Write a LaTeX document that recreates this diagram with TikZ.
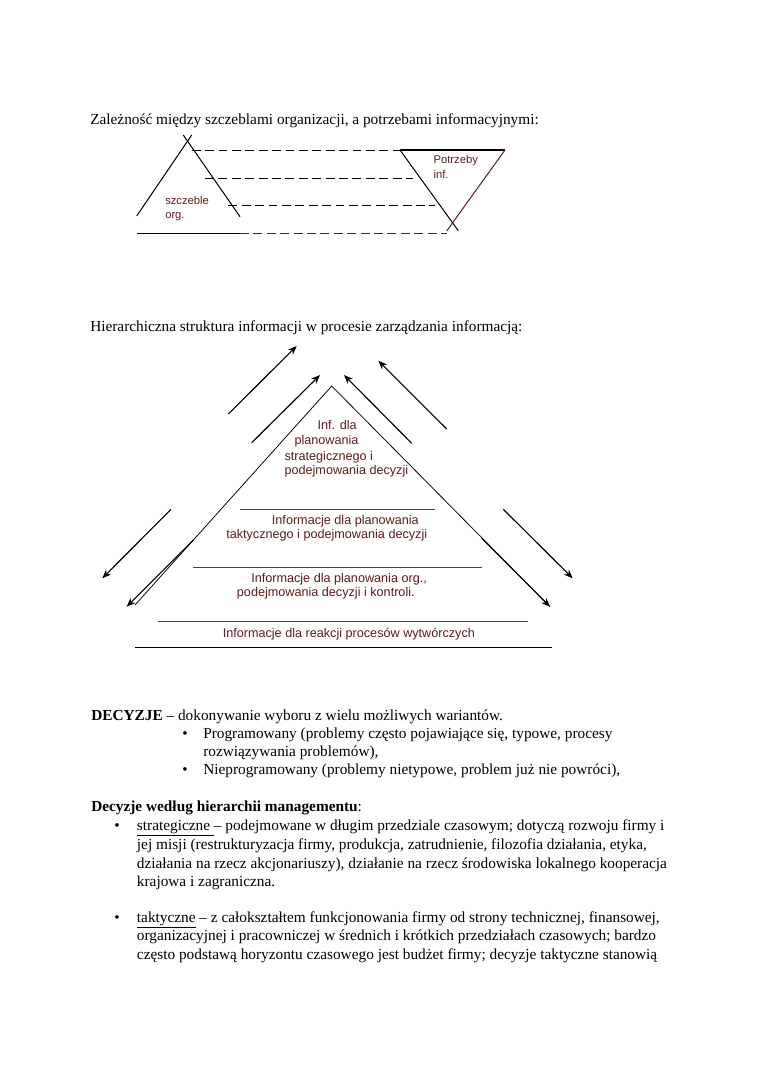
\documentclass[tikz,border=0pt]{standalone}
\usepackage{fontspec}
\setmainfont{Liberation Serif}
\newfontfamily\arialfont{Liberation Sans}
\usetikzlibrary{arrows.meta}
\definecolor{labbrown}{HTML}{5A1E1E}
\definecolor{linegray}{HTML}{444444}
\begin{document}
\begin{tikzpicture}[
    x=0.7833pt, y=-0.7833pt,
    body/.style={
        font=\fontsize{12}{14}\selectfont,
        anchor=base west,
        inner sep=0pt
    },
    dot/.style={
        font=\fontsize{12}{14}\selectfont,
        anchor=base,
        inner sep=0pt
    },
    lab/.style={
        font=\arialfont\fontsize{9.9}{11}\selectfont,
        text=labbrown,
        anchor=mid west,
        inner sep=0pt
    },
    smalllab/.style={
        lab,
        font=\arialfont\fontsize{8.8}{10}\selectfont
    },
    dashline/.style={
        dash pattern=on 7pt off 3.5pt,
        line width=0.75pt
    },
    arr/.style={
        -{Stealth[length=7pt,width=5.5pt]},
        line width=0.9pt
    },
    leg/.style={
        line width=0.6pt
    },
    level/.style={
        draw=linegray,
        line width=0.8pt
    }
]

    % tlo strony
    \useasboundingbox (0,0) rectangle (760,1075);
    \fill[white] (0,0) rectangle (760,1075);

    % ---------- zaleznosc szczebli ----------
    \node[body] (titleA) at (90,124) {Zależność między szczeblami organizacji, a potrzebami informacyjnymi:};

    % trojkat szczebli
    \coordinate (sL1) at (136.7,216);
    \coordinate (sT1) at (191.7,135);
    \coordinate (sT2) at (183.3,135);
    \coordinate (sL2) at (240,216.7);
    \draw[line width=0.8pt] (sL1) -- (sT1);
    \draw[line width=0.8pt] (sT2) -- (sL2);

    % trojkat potrzeb
    \coordinate (pA) at (400,150);
    \coordinate (pB) at (505,150);
    \coordinate (pC) at (458.3,230.7);
    \coordinate (pD) at (446.7,231);
    \draw[line width=0.8pt] (pA) -- (pB);
    \draw[line width=0.8pt] (pA) -- (pC);
    \draw[line width=0.8pt, labbrown] (pB) -- (pD);

    % poziomy
    \coordinate (d1) at (191.7,150);
    \coordinate (d2a) at (205,178.3);
    \coordinate (d2b) at (413.3,178.3);
    \coordinate (d3a) at (228.3,205);
    \coordinate (d3b) at (435,205);
    \coordinate (b1) at (136.7,233.3);
    \coordinate (b2) at (240,233.3);
    \coordinate (b3) at (446.7,233.3);
    \draw[dashline] (d1) -- (pA);
    \draw[dashline] (d2a) -- (d2b);
    \draw[dashline] (d3a) -- (d3b);
    \draw[line width=0.8pt] (b1) -- (b2);
    \draw[dashline, labbrown] (b2) -- (b3);

    \node[smalllab] (potrz) at (433.3,161) {Potrzeby};
    \node[smalllab] (inf) at (433.3,176) {inf.};
    \node[smalllab] (szcz) at (165,201.7) {szczeble};
    \node[smalllab] (org) at (165,216) {org.};

    % ---------- piramida ----------
    \node[body] (titleB) at (90,331) {Hierarchiczna struktura informacji w procesie zarządzania informacją:};

    \coordinate (apex) at (331.7,386);
    \coordinate (baseL) at (135,605);
    \coordinate (baseR) at (550,606.7);
    \draw[leg] (baseL) -- (apex) -- (baseR);

    % poziomy piramidy
    \coordinate (h1a) at (240,509.3);   \coordinate (h1b) at (435,509.3);
    \coordinate (h2a) at (193.3,567.3); \coordinate (h2b) at (481.7,567.3);
    \coordinate (h3a) at (158.3,621.7); \coordinate (h3b) at (528.3,621.7);
    \coordinate (h4a) at (135,647.3);   \coordinate (h4b) at (551.7,647.3);
    \draw[level] (h1a) -- (h1b);
    \draw[level] (h2a) -- (h2b);
    \draw[level] (h3a) -- (h3b);
    \draw[level, draw=black] (h4a) -- (h4b);

    % strzalki w gore
    \coordinate (u1s) at (228.3,414);   \coordinate (u1e) at (296.7,346);
    \coordinate (u2s) at (251.7,442.7); \coordinate (u2e) at (320,375);
    \coordinate (u3s) at (411.7,443.3); \coordinate (u3e) at (344,375);
    \coordinate (u4s) at (446.7,429);   \coordinate (u4e) at (378.3,360.7);
    \draw[arr] (u1s) -- (u1e);
    \draw[arr] (u2s) -- (u2e);
    \draw[arr] (u3s) -- (u3e);
    \draw[arr] (u4s) -- (u4e);

    % strzalki w dol
    \coordinate (w1s) at (171,509.3);   \coordinate (w1e) at (102.3,578.3);
    \coordinate (w2s) at (193.3,540);   \coordinate (w2e) at (126.7,606.7);
    \coordinate (w3s) at (481.7,538.3); \coordinate (w3e) at (550,606.7);
    \coordinate (w4s) at (503.3,509.3); \coordinate (w4e) at (572.7,578.3);
    \draw[arr] (w1s) -- (w1e);
    \draw[arr] (w2s) -- (w2e);
    \draw[arr] (w3s) -- (w3e);
    \draw[arr] (w4s) -- (w4e);

    % opisy poziomow
    \node[lab] (strat1) at (317.3,426.7) {Inf. dla};
    \node[lab] (strat2) at (294.3,441.7) {planowania};
    \node[lab] (strat3) at (284.3,457.3) {strategicznego i};
    \node[lab] (strat4) at (284.3,471.7) {podejmowania decyzji};
    \node[lab] (takt1) at (271.7,521.7) {Informacje dla planowania};
    \node[lab] (takt2) at (226,536) {taktycznego i podejmowania decyzji};
    \node[lab] (oper1) at (251,580) {Informacje dla planowania org.,};
    \node[lab] (oper2) at (236.7,593.3) {podejmowania decyzji i kontroli.};
    \node[lab] (wytw) at (222.5,635) {Informacje dla reakcji procesów wytwórczych};

    % ---------- tekst ----------
    \node[body] (decA) at (91,720) {\textbf{DECYZJE} – dokonywanie wyboru z wielu możliwych wariantów.};
    \node[dot] (dotA1) at (185,738) {\textbullet};
    \node[body] (decA1) at (203,738) {Programowany (problemy często pojawiające się, typowe, procesy};
    \node[body] (decA1b) at (203,756) {rozwiązywania problemów),};
    \node[dot] (dotA2) at (185,774) {\textbullet};
    \node[body] (decA2) at (203,774) {Nieprogramowany (problemy nietypowe, problem już nie powróci),};

    \node[body] (decB) at (91,811.5) {\textbf{Decyzje według hierarchii managementu}:};
    \node[dot] (dotB1) at (117,830.5) {\textbullet};
    \node[body] (decB1) at (136.7,830.5) {\underline{strategiczne\ }– podejmowane w długim przedziale czasowym; dotyczą rozwoju firmy i};
    \node[body] (decB1b) at (136.7,849) {jej misji (restrukturyzacja firmy, produkcja, zatrudnienie, filozofia działania, etyka,};
    \node[body] (decB1c) at (136.7,868) {działania na rzecz akcjonariuszy), działanie na rzecz środowiska lokalnego kooperacja};
    \node[body] (decB1d) at (136.7,886.5) {krajowa i zagraniczna.};
    \node[dot] (dotB2) at (117,922) {\textbullet};
    \node[body] (decB2) at (136.7,922) {\underline{taktyczne} – z całokształtem funkcjonowania firmy od strony technicznej, finansowej,};
    \node[body] (decB2b) at (136.7,940) {organizacyjnej i pracowniczej w średnich i krótkich przedziałach czasowych; bardzo};
    \node[body] (decB2c) at (136.7,959) {często podstawą horyzontu czasowego jest budżet firmy; decyzje taktyczne stanowią};

\end{tikzpicture}
\end{document}
